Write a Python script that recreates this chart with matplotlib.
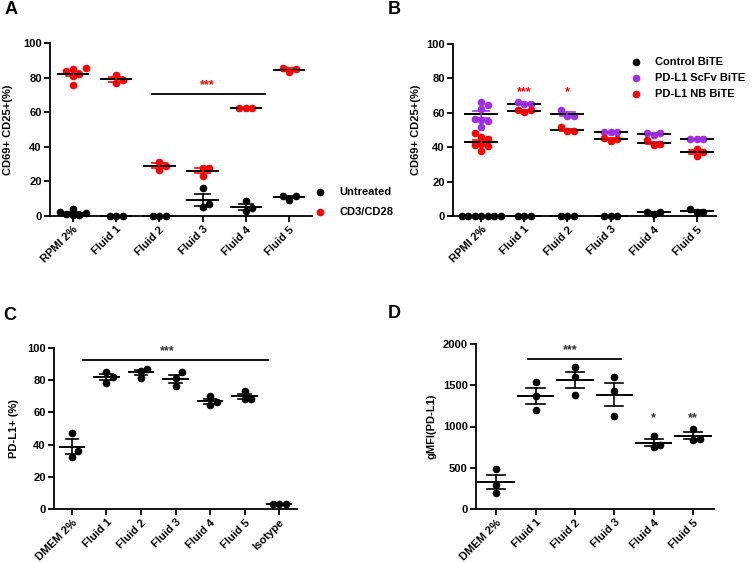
import numpy as np
import matplotlib
matplotlib.use("Agg")
import matplotlib.pyplot as plt
from matplotlib.lines import Line2D

plt.rcParams['font.family'] = ['Liberation Sans', 'DejaVu Sans']
plt.rcParams['font.weight'] = 'bold'
plt.rcParams['axes.labelweight'] = 'bold'

RED = '#FF0000'
PURPLE = '#A030E8'
BLACK = '#000000'

# ---- panel A ----
cats_a = ['RPMI 2%', 'Fluid 1', 'Fluid 2', 'Fluid 3', 'Fluid 4', 'Fluid 5']
a_untreated = [[0.5, 2.5, 1.0, 1.5, 0.5, 4.2], [0, 0, 0], [0, 0, 0],
               [16, 7, 5], [8.5, 4.5, 3.0], [11.5, 11.5, 9.5]]
a_cd3 = [[85, 85.5, 82, 81, 84, 76], [81.5, 78.5, 77], [31.5, 29, 26.5],
         [28, 27.5, 23], [62.5, 62.5, 62.5], [85.5, 85, 83.5]]
a_labels = ['Untreated', 'CD3/CD28']

# ---- panel B ----
cats_b = ['RPMI 2%', 'Fluid 1', 'Fluid 2', 'Fluid 3', 'Fluid 4', 'Fluid 5']
b_control = [[0, 0, 0, 0, 0, 0, 0], [0.2, 0.2, 0.2], [0, 0, 0],
             [0, 0, 0], [2.5, 2.5, 1.2], [3.8, 2.5, 2.5]]
b_scfv = [[66.5, 64.5, 62.5, 56, 55.5, 56.5, 52], [66, 65, 65], [61.5, 58, 58],
          [49, 49, 49], [48.5, 47, 48], [45, 44.5, 44.5]]
b_nb = [[48.5, 46, 45, 40.5, 42, 41, 38], [61.5, 60.5, 61.5], [49.5, 49.5, 51.5],
        [45.5, 43.5, 45], [41.5, 42, 44], [39, 37, 35]]
b_labels = ['Control BiTE', 'PD-L1 ScFv BiTE', 'PD-L1 NB BiTE']

# ---- panel C ----
cats_c = ['DMEM 2%', 'Fluid 1', 'Fluid 2', 'Fluid 3', 'Fluid 4', 'Fluid 5', 'Isotype']
c_vals = [[47.5, 36, 32.5], [85, 82, 78.5], [87, 86, 81.5], [85, 81.5, 76.5],
          [70, 66.5, 64.3], [73, 68.5, 68.5], [3, 3, 3]]

# ---- panel D ----
cats_d = ['DMEM 2%', 'Fluid 1', 'Fluid 2', 'Fluid 3', 'Fluid 4', 'Fluid 5']
d_vals = [[490, 290, 200], [1535, 1374, 1204], [1717, 1596, 1386],
          [1596, 1434, 1131], [889, 776, 747], [970, 848, 840]]

W, H = 752, 563
fig = plt.figure(figsize=(W / 100, H / 100), dpi=100)


def make_ax(left, right, top, bottom, xlim, ylim, yticks, cats, ylabel, labx):
    ax = fig.add_axes([left / W, 1 - bottom / H, (right - left) / W, (bottom - top) / H])
    ax.set_xlim(*xlim)
    ax.set_ylim(*ylim)
    ax.set_yticks(yticks)
    ax.set_xticks(range(len(cats)))
    ax.set_xticklabels(cats, rotation=45, ha='right', rotation_mode='anchor')
    ax.spines['top'].set_visible(False)
    ax.spines['right'].set_visible(False)
    for s in ['left', 'bottom']:
        ax.spines[s].set_linewidth(1.3)
    ax.tick_params(width=1.3, length=4, labelsize=8, pad=2)
    ax.set_ylabel(ylabel, fontsize=8)
    ax.yaxis.set_label_coords(labx, 0.5)
    return ax


def swarm(ax, x, vals, d=6.5):
    # place overlapping dots side by side (pixel space)
    order = np.argsort(vals, kind='stable')
    placed = []
    xs = np.zeros(len(vals))
    ppx = ax.transData.transform([(0, 0), (1, 1)])
    sx = ppx[1, 0] - ppx[0, 0]
    sy = ppx[1, 1] - ppx[0, 1]
    for i in order:
        py = vals[i] * sy
        k = 0
        while True:
            off = 0 if k == 0 else ((k + 1) // 2) * d * (1 if k % 2 else -1)
            if all(np.hypot(off - ox, py - oy) >= d * 0.95 for ox, oy in placed):
                break
            k += 1
        placed.append((off, py))
        xs[i] = x + off / sx
    return xs


def draw_group(ax, x, vals, color, mw, cw):
    vals = np.array(vals, dtype=float)
    xs = swarm(ax, x, vals)
    ax.plot(xs, vals, 'o', color=color, ms=5.5, mec='none', zorder=3, clip_on=False)
    m = vals.mean()
    sem = vals.std(ddof=1) / np.sqrt(len(vals))
    ax.plot([x - mw, x + mw], [m, m], color=BLACK, lw=1.4, zorder=4, clip_on=False)
    ax.plot([x, x], [m - sem, m + sem], color=color, lw=1.2, zorder=4, clip_on=False)
    for yy in (m - sem, m + sem):
        ax.plot([x - cw, x + cw], [yy, yy], color=color, lw=1.2, zorder=4, clip_on=False)


def fig_legend(x, y0, dy, labels, colors):
    for i, (lab, col) in enumerate(zip(labels, colors)):
        yy = 1 - (y0 + i * dy) / H
        fig.add_artist(Line2D([x / W], [yy], transform=fig.transFigure, marker='o',
                              ms=5.5, color=col, mec='none', ls='none'))
        fig.text((x + 19) / W, yy, lab, fontsize=8, va='center', ha='left')


# A
ax = make_ax(50, 312, 43, 216, (-0.53, 5.53), (0, 100), [0, 20, 40, 60, 80, 100],
             cats_a, 'CD69+ CD25+(%)', -0.141)
for i in range(len(cats_a)):
    draw_group(ax, i, a_untreated[i], BLACK, 0.35, 0.17)
    draw_group(ax, i, a_cd3[i], RED, 0.35, 0.17)
ax.plot([1.84, 4.44], [70.5, 70.5], color=BLACK, lw=1.3)
ax.text(3.1, 75.5, '***', color=RED, ha='center', va='center', fontsize=9)
fig_legend(320, 192, 20, a_labels, [BLACK, RED])
fig.text(5 / W, 1 - 10 / H, 'A', fontsize=13, va='center', ha='left')

# B
ax = make_ax(453, 716, 44, 216, (-0.65, 5.44), (0, 100), [0, 20, 40, 60, 80, 100],
             cats_b, 'CD69+ CD25+(%)', -0.122)
for i in range(len(cats_b)):
    draw_group(ax, i, b_control[i], BLACK, 0.37, 0.18)
    draw_group(ax, i, b_scfv[i], PURPLE, 0.37, 0.18)
    draw_group(ax, i, b_nb[i], RED, 0.37, 0.18)
ax.text(1, 72, '***', color=RED, ha='center', va='center', fontsize=9)
ax.text(2, 72, '*', color=RED, ha='center', va='center', fontsize=9)
fig_legend(636, 62, 16, b_labels, [BLACK, PURPLE, RED])
fig.text(388 / W, 1 - 10 / H, 'B', fontsize=13, va='center', ha='left')

# C
ax = make_ax(54, 297, 348, 509, (-0.52, 6.52), (0, 100), [0, 20, 40, 60, 80, 100],
             cats_c, 'PD-L1+ (%)', -0.144)
for i in range(len(cats_c)):
    draw_group(ax, i, c_vals[i], BLACK, 0.35, 0.18)
ax.plot([0.32, 5.68], [92.6, 92.6], color=BLACK, lw=1.3)
ax.text(2.75, 98, '***', color='#333333', ha='center', va='center', fontsize=9)
fig.text(3 / W, 1 - 316 / H, 'C', fontsize=13, va='center', ha='left')

# D
ax = make_ax(476, 714, 344, 509, (-0.51, 5.53), (0, 2000), [0, 500, 1000, 1500, 2000],
             cats_d, 'gMFI(PD-L1)', -0.168)
for i in range(len(cats_d)):
    draw_group(ax, i, d_vals[i], BLACK, 0.45, 0.23)
ax.plot([0.81, 3.17], [1814, 1814], color=BLACK, lw=1.3)
ax.text(1.88, 1930, '***', color='#333333', ha='center', va='center', fontsize=9)
ax.text(4, 1100, '*', color='#333333', ha='center', va='center', fontsize=9)
ax.text(5, 1100, '**', color='#333333', ha='center', va='center', fontsize=9)
fig.text(388 / W, 1 - 314 / H, 'D', fontsize=13, va='center', ha='left')

fig.savefig('out.png', dpi=100)
